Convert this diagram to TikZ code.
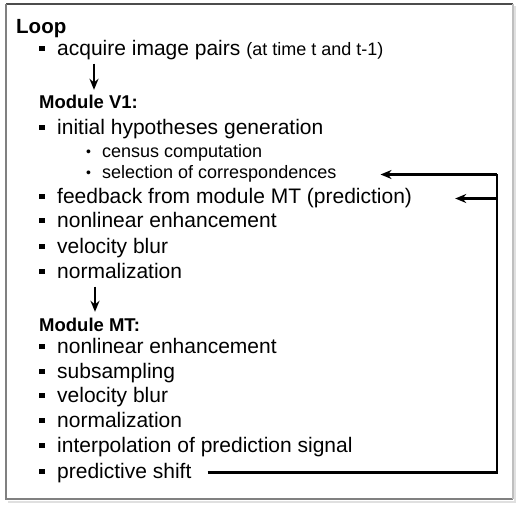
\documentclass[tikz,border=0pt]{standalone}
\usepackage{fontspec}
\setmainfont{Liberation Sans}
\usetikzlibrary{arrows.meta}

% list bullets
\newcommand{\sqbul}{\makebox[18pt][l]{\raisebox{0.2em}{\rule{5.5pt}{5.5pt}}}}
\newcommand{\dotbul}{\makebox[16pt][l]{\raisebox{0.08em}{\fontsize{14}{14}\selectfont\textbullet}}}

\begin{document}
\begin{tikzpicture}[x=1pt,y=-1pt,
  item/.style={anchor=west,inner sep=0pt,yshift=-2.5pt,font=\fontsize{21}{24}\selectfont,
    text height=15pt,text depth=5pt},
  subitem/.style={item,font=\fontsize{18}{20}\selectfont,text height=13pt,text depth=4pt},
  head/.style={subitem,font=\bfseries\fontsize{18.5}{20}\selectfont},
  flow/.style={-{Stealth[length=11pt,width=9pt]},line width=2.3pt},
  fbline/.style={line width=2.4pt}]
  \useasboundingbox (0,0) rectangle (517,505);
  % frame
  \draw[black!12,line width=1.5pt] (8,502) -- (515,502) -- (515,6);
  \draw[black!70,line width=1.6pt] (6,4) -- (513,4);
  \draw[black!50,line width=1.5pt] (6,4) -- (6,499) -- (513,499);
  \draw[black!25,line width=1.2pt] (513,4) -- (513,499);
  % loop header
  \node[item,font=\bfseries\fontsize{20.5}{24}\selectfont] (loop) at (16,26) {Loop};
  \node[item] (acq) at (39,48) {\sqbul acquire image pairs {\fontsize{18}{20}\selectfont(at time t and t-1)}};
  % module V1
  \node[head] (v1) at (39,102) {Module V1:};
  \node[item] (init) at (39,127) {\sqbul initial hypotheses generation};
  \node[subitem] (census) at (86,151) {\dotbul census computation};
  \node[subitem] (sel) at (86,172) {\dotbul selection of correspondences};
  \node[item] (fb) at (39,196) {\sqbul feedback from module MT (prediction)};
  \node[item] (nle1) at (39,220) {\sqbul nonlinear enhancement};
  \node[item] (vb1) at (39,246) {\sqbul velocity blur};
  \node[item] (norm1) at (39,271) {\sqbul normalization};
  % module MT
  \node[head] (mt) at (39,324) {Module MT:};
  \node[item] (nle2) at (39,346) {\sqbul nonlinear enhancement};
  \node[item] (sub) at (39,371) {\sqbul subsampling};
  \node[item] (vb2) at (39,395) {\sqbul velocity blur};
  \node[item] (norm2) at (39,420) {\sqbul normalization};
  \node[item] (interp) at (39,445) {\sqbul interpolation of prediction signal};
  \node[item] (shift) at (39,471) {\sqbul predictive shift};
  % stage arrows
  \draw[flow,shorten <=3pt,shorten >=6pt] ([xshift=55pt]acq.south west) -- ([xshift=55pt]v1.north west);
  \draw[flow,shorten <=3pt,shorten >=6pt] ([xshift=56pt]norm1.south west) -- ([xshift=56pt]mt.north west);
  % feedback path
  \coordinate (rail) at (497,0);
  \draw[fbline] ([xshift=16pt,yshift=1pt]shift.east) -| (rail |- sel.east) coordinate (top);
  \draw[flow] (top) -- ([xshift=44pt]sel.east);
  \draw[flow] (rail |- fb.east) -- ([xshift=43pt]fb.east);
\end{tikzpicture}
\end{document}
